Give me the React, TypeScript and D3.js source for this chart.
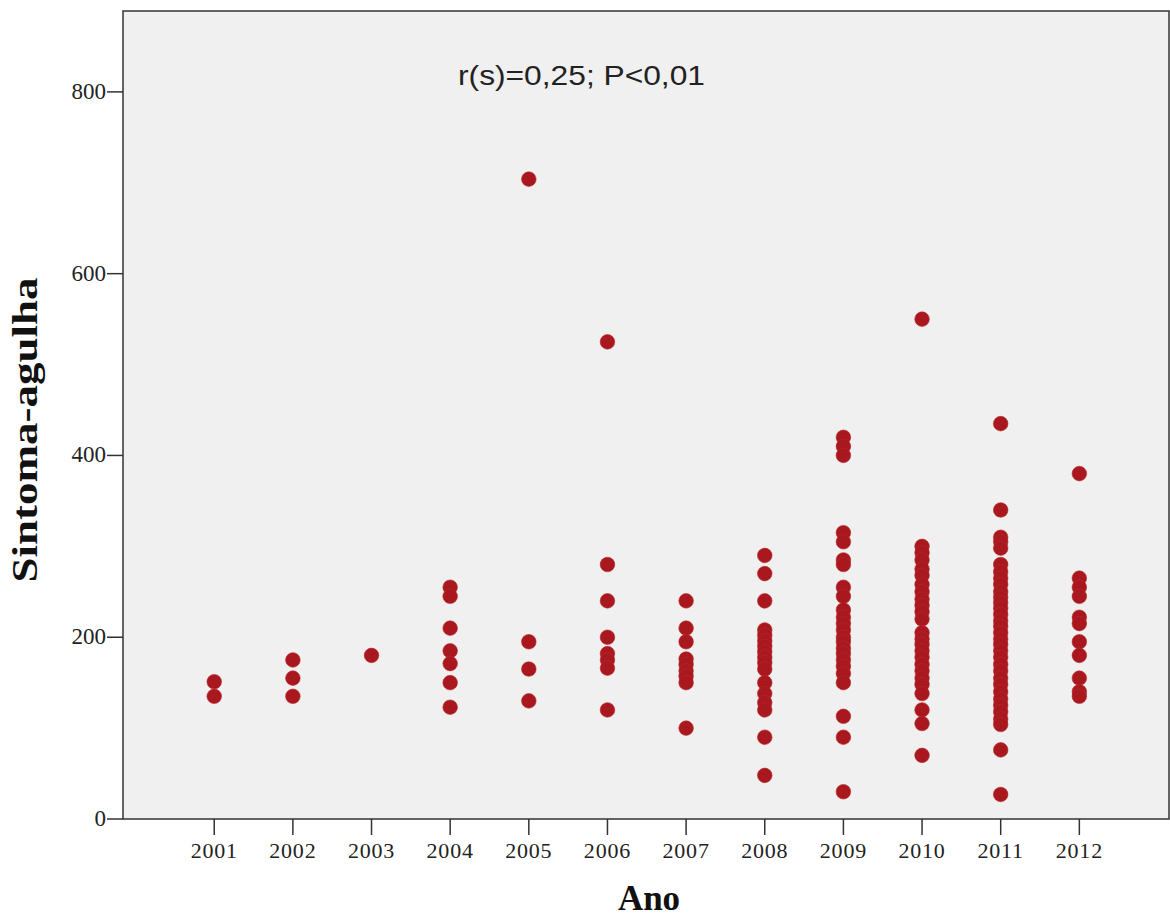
import React from 'react';
import * as d3 from 'd3';

// Ano (x) and Sintoma-agulha values (y)
const years = [2001, 2002, 2003, 2004, 2005, 2006, 2007, 2008, 2009, 2010, 2011, 2012];

const v2001 = [151, 135];
const v2002 = [175, 155, 135];
const v2003 = [180];
const v2004 = [255, 245, 210, 185, 171, 150, 123];
const v2005 = [704, 195, 165, 130];
const v2006 = [525, 280, 240, 200, 182, 175, 166, 120];
const v2007 = [240, 210, 195, 176, 170, 163, 157, 150, 100];
const v2008 = [290, 270, 240, 208, 202, 196, 190, 184, 178, 172, 165, 150, 138, 128, 120, 90, 48];
const v2009 = [420, 410, 400, 315, 305, 285, 280, 255, 245, 230, 222, 215, 208, 200, 195, 188, 182, 175, 168, 160, 150, 113, 90, 30];
const v2010 = [550, 300, 293, 285, 275, 268, 258, 250, 242, 235, 228, 220, 205, 198, 192, 185, 178, 170, 163, 155, 148, 138, 120, 105, 70];
const v2011 = [435, 340, 310, 305, 298, 280, 272, 265, 258, 250, 244, 238, 232, 225, 218, 212, 205, 198, 192, 185, 178, 170, 163, 155, 148, 140, 132, 125, 118, 110, 104, 76, 27];
const v2012 = [380, 265, 255, 245, 222, 215, 195, 180, 155, 140, 135];

const valuesByYear = [v2001, v2002, v2003, v2004, v2005, v2006, v2007, v2008, v2009, v2010, v2011, v2012];
const yTicks = [0, 200, 400, 600, 800];
const annotation = 'r(s)=0,25; P<0,01';

const W = 1170;
const H = 919;
const plot = { left: 123, right: 1169, top: 11, bottom: 819 };

const App: React.FC = () => {
  const x = d3.scaleLinear().domain([1999.84, 2013.14]).range([plot.left, plot.right]);
  const y = d3.scaleLinear().domain([0, 889]).range([plot.bottom, plot.top]);

  const points = years.flatMap((yr, i) => valuesByYear[i].map(v => ({ yr, v })));
  const serif = '"Liberation Serif", "Times New Roman", serif';

  return (
    <svg width={W} height={H} style={{ position: 'absolute', left: 0, top: 0 }}>
      <rect x={0} y={0} width={W} height={H} fill="#fff" />
      <rect
        x={plot.left}
        y={plot.top}
        width={plot.right - plot.left}
        height={plot.bottom - plot.top}
        fill="#f0f0f0"
        stroke="#333"
        strokeWidth={1.5}
      />

      {points.map((p, i) => (
        <circle key={i} cx={x(p.yr)} cy={y(p.v)} r={7.3} fill="#a9181e" stroke="#b8282c" strokeWidth={0.6} />
      ))}

      {/* y axis */}
      {yTicks.map(t => (
        <g key={t}>
          <line x1={plot.left - 16} x2={plot.left} y1={y(t)} y2={y(t)} stroke="#333" strokeWidth={1.5} />
          <text x={plot.left - 17} y={y(t) + 7} textAnchor="end" fontFamily={serif} fontSize={23} fill="#222">
            {t}
          </text>
        </g>
      ))}

      {/* x axis */}
      {years.map(yr => (
        <g key={yr}>
          <line x1={x(yr)} x2={x(yr)} y1={plot.bottom} y2={plot.bottom + 16} stroke="#333" strokeWidth={1.5} />
          <text x={x(yr)} y={plot.bottom + 39} textAnchor="middle" fontFamily={serif} fontSize={22} letterSpacing={0.8} fill="#222">
            {yr}
          </text>
        </g>
      ))}

      <text x={649} y={910} textAnchor="middle" fontFamily={serif} fontWeight="bold" fontSize={35} fill="#111">
        Ano
      </text>
      <text
        transform="translate(37, 430) rotate(-90)"
        textAnchor="middle"
        fontFamily={serif}
        fontWeight="bold"
        fontSize={35}
        textLength={305}
        lengthAdjust="spacingAndGlyphs"
        fill="#111"
      >
        Sintoma-agulha
      </text>

      <text
        x={458}
        y={85}
        fontFamily='"Liberation Sans", Arial, sans-serif'
        fontSize={27}
        textLength={247}
        lengthAdjust="spacingAndGlyphs"
        fill="#222"
      >
        {annotation}
      </text>
    </svg>
  );
};

export default App;
